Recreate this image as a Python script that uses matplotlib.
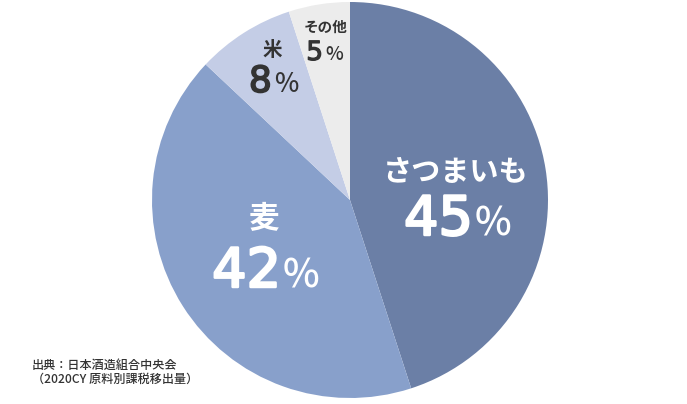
import matplotlib.pyplot as plt
import matplotlib.patheffects as pe

plt.rcParams['font.family'] = ['Noto Sans CJK JP', 'DejaVu Sans']

labels = ['さつまいも', '麦', '米', 'その他']
shares = [45, 42, 8, 5]
colors = ['#6b7fa6', '#88a0cb', '#c4cde6', '#ececec']
source = '出典：日本酒造組合中央会\n（2020CY 原料別課税移出量）'

W, H = 687, 404
fig = plt.figure(figsize=(W / 100, H / 100), dpi=100)
ax = fig.add_axes([0, 0, 1, 1])

ax.pie(shares, colors=colors, startangle=90, counterclock=False,
       center=(350, H - 200), radius=198,
       wedgeprops=dict(linewidth=0))
ax.set_xlim(0, W)
ax.set_ylim(0, H)
ax.set_aspect('equal')
ax.axis('off')


def y(v):
    return H - v


# name x, name y, name size, split x, number baseline, number size, text colour
layout = [
    (456, 172, 21, 473, 235, 39, 'white'),
    (264, 219, 22, 281, 287, 39, 'white'),
    (272, 50, 14, 272, 92, 26, '#333333'),
    (326, 27, 10.5, 323, 60, 19, '#333333'),
]

for name, share, (lx, ly, nsize, sx, base, numsize, tc) in zip(labels, shares, layout):
    ax.text(lx, y(ly), name, ha='center', va='center', fontsize=nsize,
            fontweight='bold', color=tc)
    # medium-weight digits: regular face thickened with a thin stroke
    ax.text(sx, y(base), str(share), ha='right', va='baseline',
            fontsize=numsize, color=tc, family='DejaVu Sans',
            path_effects=[pe.withStroke(linewidth=numsize / 22, foreground=tc)])
    ax.text(sx + 2, y(base), '%', ha='left', va='baseline',
            fontsize=numsize * 0.72, fontweight='medium', color=tc)

ax.text(32, y(372), source, ha='left', va='center', fontsize=8.7,
        fontweight='medium', color='#333333', linespacing=1.1)

fig.savefig('out.png', dpi=100)
